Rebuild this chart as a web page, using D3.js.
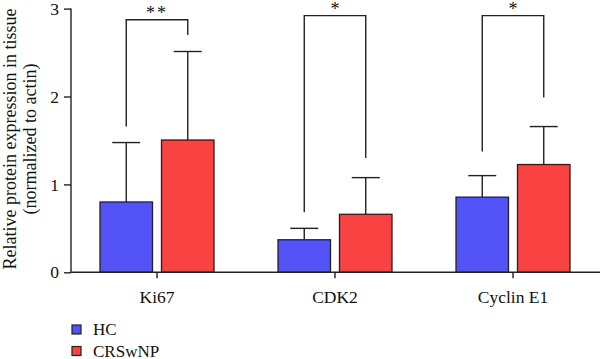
<!DOCTYPE html>
<html><head><meta charset="utf-8">
<script src="https://cdn.jsdelivr.net/npm/d3@7"></script>
<style>body{margin:0;background:#fff}svg{display:block}text{font-family:"Liberation Serif","Times New Roman",serif;fill:#111}</style>
</head><body><svg id="c" width="600" height="359"></svg>
<script>
const categories = ["Ki67", "CDK2", "Cyclin E1"];
const groups = ["HC", "CRSwNP"];
const hcMean = [0.80, 0.37, 0.855];
const hcErr = [1.476, 0.50, 1.10];
const crsMean = [1.505, 0.66, 1.226];
const crsErr = [2.512, 1.077, 1.658];
const sigLabels = ["**", "*", "*"];
const bracketTop = [2.873, 2.92, 2.92];
const bracketLeftEnd = [1.658, 0.683, 1.374];
const bracketRightEnd = [2.70, 1.30, 1.99];
const yTicks = [0, 1, 2, 3];
const colors = {HC: "#5252f6", CRSwNP: "#f94242"};

const svg = d3.select("#c");
const x = d3.scaleBand().domain(categories).range([68, 602]).padding(0);
const xs = d3.scaleBand().domain(groups).range([-57, 57]).paddingInner(0.146).paddingOuter(0);
const y = d3.scaleLinear().domain([0, 3]).range([272.3, 8.6]);

const data = categories.map((c, i) => ({
  c, i,
  vals: [{g: "HC", m: hcMean[i], e: hcErr[i]}, {g: "CRSwNP", m: crsMean[i], e: crsErr[i]}]
}));

const cx = (c, g) => x(c) + x.bandwidth() / 2 + xs(g) + xs.bandwidth() / 2;
data.forEach(d => d.vals.forEach(v => {
  const px = cx(d.c, v.g);
  svg.append("line").attr("x1", px).attr("x2", px).attr("y1", y(v.m)).attr("y2", y(v.e))
    .attr("stroke", "#222").attr("stroke-width", 1.4);
  svg.append("line").attr("x1", px - 14).attr("x2", px + 14).attr("y1", y(v.e)).attr("y2", y(v.e))
    .attr("stroke", "#222").attr("stroke-width", 1.4);
}));

data.forEach(d => d.vals.forEach(v => {
  svg.append("rect")
    .attr("x", x(d.c) + x.bandwidth() / 2 + xs(v.g))
    .attr("y", y(v.m))
    .attr("width", xs.bandwidth())
    .attr("height", y(0) - y(v.m))
    .attr("fill", colors[v.g]).attr("stroke", "#222").attr("stroke-width", 1.3);
}));

data.forEach(d => {
  const lx = cx(d.c, "HC"), rx = cx(d.c, "CRSwNP"), ty = y(bracketTop[d.i]);
  svg.append("path")
    .attr("d", `M${lx},${y(bracketLeftEnd[d.i])}V${ty}H${rx}V${y(bracketRightEnd[d.i])}`)
    .attr("fill", "none").attr("stroke", "#222").attr("stroke-width", 1.4);
  svg.append("text").attr("x", (lx + rx) / 2).attr("y", ty - 1)
    .attr("text-anchor", "middle").attr("font-size", 18).attr("letter-spacing", sigLabels[d.i].length > 1 ? 2 : 0)
    .text(sigLabels[d.i]);
});

const yAxis = svg.append("g").attr("transform", "translate(71,0)")
  .call(d3.axisLeft(y).tickValues(yTicks).tickFormat(d3.format("d")).tickSize(7).tickPadding(5));
yAxis.select(".domain").attr("stroke", "#222").attr("stroke-width", 1.4).attr("d", `M0,${y(3)}V${y(0)}`);
yAxis.selectAll(".tick line").attr("stroke", "#222").attr("stroke-width", 1.4);
yAxis.selectAll(".tick text").attr("font-size", 17.5).attr("font-family", '"Liberation Serif",serif').attr("fill", "#111");

const xAxis = svg.append("g").attr("transform", `translate(0,${y(0)})`)
  .call(d3.axisBottom(x).tickSize(6).tickPadding(12));
xAxis.select(".domain").attr("stroke", "#222").attr("stroke-width", 1.4).attr("d", "M71,0H600");
xAxis.selectAll(".tick line").attr("stroke", "#222").attr("stroke-width", 1.4);
xAxis.selectAll(".tick text").attr("font-size", 17.5).attr("font-family", '"Liberation Serif",serif').attr("fill", "#111");

const yl = svg.append("text").attr("transform", "translate(0,139) rotate(-90)").attr("text-anchor", "middle").attr("font-size", 18);
yl.append("tspan").attr("x", 0).attr("y", 16).text("Relative protein expression in tissue");
yl.append("tspan").attr("x", 0).attr("y", 36).text("(normalized to actin)");

groups.forEach((g, i) => {
  const ly = 329.5 + i * 21.5;
  svg.append("rect").attr("x", 72).attr("y", ly - 4.5).attr("width", 9).attr("height", 9)
    .attr("fill", colors[g]).attr("stroke", "#222").attr("stroke-width", 1.2);
  svg.append("text").attr("x", 93).attr("y", ly + 5.5).attr("font-size", 17).text(g);
});
</script></body></html>
